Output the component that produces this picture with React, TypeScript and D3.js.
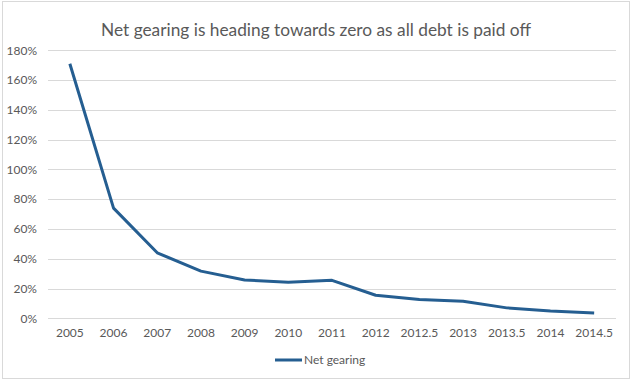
import React from "react";
import * as d3 from "d3";

const categories = ["2005", "2006", "2007", "2008", "2009", "2010", "2011", "2012", "2012.5", "2013", "2013.5", "2014", "2014.5"];
const netGearing = [1.71, 0.74, 0.44, 0.317, 0.257, 0.242, 0.255, 0.155, 0.126, 0.115, 0.07, 0.049, 0.035];
const yTicks = [0, 0.2, 0.4, 0.6, 0.8, 1.0, 1.2, 1.4, 1.6, 1.8];
const title = "Net gearing is heading towards zero as all debt is paid off";
const seriesName = "Net gearing";

const W = 633;
const H = 382;
const FONT = "Lato, 'Open Sans', sans-serif";
const TEXT = "#595959";
const LINE = "#255E91";

export default function App() {
  const x = d3.scalePoint<string>().domain(categories).range([48, 616]).padding(0.5);
  const y = d3.scaleLinear().domain([0, 1.8]).range([318.3, 50.3]);
  const line = d3
    .line<number>()
    .x((_, i) => x(categories[i]) as number)
    .y((d) => y(d));
  const fmt = d3.format(".0%");

  return (
    <svg
      width={W}
      height={H}
      style={{ position: "absolute", left: 0, top: 0, background: "#fff" }}
      fontFamily={FONT}
    >
      <rect x={2.5} y={1.5} width={627} height={377} fill="#fff" stroke="#d9d9d9" strokeWidth={1} />
      <text x={316} y={36} textAnchor="middle" fontSize={18} fill={TEXT} textLength={430} lengthAdjust="spacingAndGlyphs">
        {title}
      </text>
      {yTicks.map((t) => (
        <g key={t}>
          <line x1={48} x2={616} y1={Math.round(y(t)) + 0.5} y2={Math.round(y(t)) + 0.5} stroke="#d9d9d9" strokeWidth={1} />
          <text x={37} y={y(t)} dy="0.35em" textAnchor="end" fontSize={12} fill={TEXT}>
            {fmt(t)}
          </text>
        </g>
      ))}
      {categories.map((c) => (
        <text key={c} x={x(c)} y={333} dy="0.35em" textAnchor="middle" fontSize={12} fill={TEXT}>
          {c}
        </text>
      ))}
      <path d={line(netGearing) || ""} fill="none" stroke={LINE} strokeWidth={3} strokeLinejoin="round" />
      <line x1={275} x2={302} y1={360} y2={360} stroke={LINE} strokeWidth={3} />
      <text x={304} y={360} dy="0.35em" fontSize={12} fill={TEXT}>
        {seriesName}
      </text>
    </svg>
  );
}
